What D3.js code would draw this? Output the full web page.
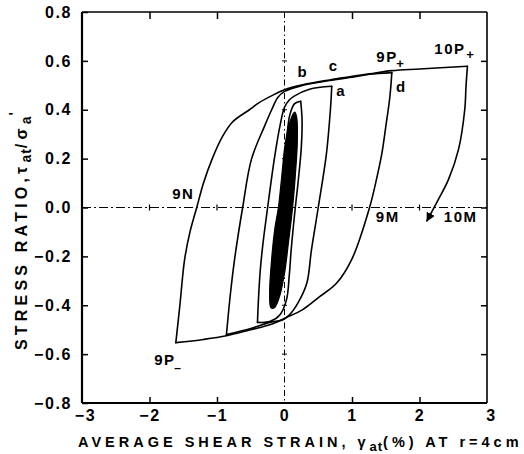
<!DOCTYPE html>
<html><head><meta charset="utf-8">
<script src="https://cdn.jsdelivr.net/npm/d3@7"></script>
<style>body{margin:0;background:#fff}svg{display:block}</style>
</head><body><svg id="c" width="524" height="454"></svg>
<script>
// ---- data (strain %, stress ratio) ----
const xTicks = [-3, -2, -1, 0, 1, 2, 3];
const yTicks = [0.8, 0.6, 0.4, 0.2, 0, -0.2, -0.4, -0.6, -0.8];
const blackCore = [[-0.2,-0.41],[-0.22,-0.35],[-0.19,-0.21],[-0.14,-0.08],[-0.09,0.0],[-0.04,0.13],[0.01,0.26],[0.08,0.35],[0.15,0.39],
  [0.18,0.37],[0.19,0.27],[0.16,0.13],[0.12,0.0],[0.06,-0.14],[0.0,-0.27],[-0.08,-0.37],[-0.15,-0.41]];
const thinRise = [[0.04,0.3],[0.08,0.38],[0.15,0.425],[0.24,0.435]];
const thinUnload = [[0.24,0.435],[0.26,0.36],[0.25,0.25],[0.2,0.1],[0.16,0.0],[0.1,-0.17],[0.07,-0.28],[0.03,-0.377],[-0.07,-0.44],[-0.22,-0.467],[-0.4,-0.47]];
const reloadToA = [[-0.4,-0.47],[-0.39,-0.4],[-0.36,-0.26],[-0.32,-0.15],[-0.25,0.0],[-0.15,0.2],[-0.07,0.33],[0.0,0.41],[0.07,0.44],[0.15,0.457],[0.37,0.484],[0.7,0.496]];
const unloadA = [[0.7,0.496],[0.68,0.4],[0.62,0.217],[0.5,0.0],[0.4,-0.172],[0.33,-0.31],[0.2,-0.39],[0.07,-0.44],[-0.03,-0.46],[-0.22,-0.47],[-0.5,-0.495],[-0.86,-0.52]];
const reloadToD = [[-0.86,-0.52],[-0.8,-0.35],[-0.74,-0.213],[-0.62,0.0],[-0.49,0.197],[-0.3,0.33],[-0.19,0.4],[-0.1,0.45],[0.0,0.475],[0.27,0.5],[0.67,0.52],[1.0,0.533],[1.26,0.545],[1.59,0.552]];
const unloadD = [[1.59,0.552],[1.56,0.45],[1.5,0.33],[1.44,0.217],[1.35,0.1],[1.26,0.0],[1.0,-0.21],[0.77,-0.31],[0.52,-0.365],[0.27,-0.418],[0.03,-0.45],[-0.22,-0.48],[-0.5,-0.5],[-0.86,-0.525],[-1.2,-0.54],[-1.61,-0.553]];
const reloadTo10 = [[-1.61,-0.553],[-1.55,-0.4],[-1.48,-0.213],[-1.4,-0.1],[-1.3,0.0],[-1.2,0.1],[-1.07,0.2],[-0.92,0.29],[-0.77,0.35],[-0.52,0.4],[-0.37,0.43],[-0.15,0.463],[0.0,0.482],[0.27,0.502],[0.67,0.522],[1.26,0.547],[1.59,0.56],[2.0,0.567],[2.71,0.578]];
const unload10 = [[2.71,0.578],[2.69,0.5],[2.67,0.4],[2.58,0.24],[2.43,0.115],[2.28,0.033],[2.11,-0.055]];
const annotations = [
  {t:"9N", x:-1.5, y:0.033}, {t:"9M", x:1.53, y:-0.061}, {t:"10M", x:2.61, y:-0.061},
  {t:"a", x:0.84, y:0.455}, {t:"b", x:0.27, y:0.533}, {t:"c", x:0.73, y:0.557}, {t:"d", x:1.73, y:0.471}
];

// ---- layout ----
const svg = d3.select("#c");
const x = d3.scaleLinear().domain([-3, 3]).range([82, 487]);
const y = d3.scaleLinear().domain([-0.8, 0.8]).range([403, 12]);
const FONT = "'Liberation Sans', Arial, Helvetica, sans-serif";

// reference lines (dash-dot)
svg.append("line").attr("x1", x(-3)).attr("x2", x(3)).attr("y1", y(0)).attr("y2", y(0))
  .attr("stroke", "#000").attr("stroke-width", 1.2).attr("stroke-dasharray", "9,3,2,3");
svg.append("line").attr("x1", x(0)).attr("x2", x(0)).attr("y1", y(0.8)).attr("y2", y(-0.8))
  .attr("stroke", "#000").attr("stroke-width", 1).attr("stroke-dasharray", "6,3,1.5,3");
xTicks.filter(d => d !== 0 && Math.abs(d) !== 3).forEach(d => {
  svg.append("line").attr("x1", x(d)).attr("x2", x(d)).attr("y1", y(0) - 3).attr("y2", y(0) + 3).attr("stroke", "#000").attr("stroke-width", 1.2);
});
yTicks.filter(d => d !== 0 && Math.abs(d) !== 0.8).forEach(d => {
  svg.append("line").attr("x1", x(0) - 2.5).attr("x2", x(0) + 2.5).attr("y1", y(d)).attr("y2", y(d)).attr("stroke", "#000").attr("stroke-width", 1);
});

// axes
const fmtY = d3.format(".1f"), fmtX = d3.format("d");
const gl = svg.append("g").attr("transform", `translate(${x(-3)},0)`)
  .call(d3.axisLeft(y).tickValues(yTicks).tickFormat(fmtY).tickSizeInner(-6).tickSizeOuter(0).tickPadding(10));
const gr = svg.append("g").attr("transform", `translate(${x(3)},0)`)
  .call(d3.axisRight(y).tickValues(yTicks.filter(d => Math.abs(d) < 0.8)).tickFormat("").tickSizeInner(-6).tickSizeOuter(0));
const gb = svg.append("g").attr("transform", `translate(0,${y(-0.8)})`)
  .call(d3.axisBottom(x).tickValues(xTicks).tickFormat(fmtX).tickSizeInner(-6).tickSizeOuter(0).tickPadding(7));
const gt = svg.append("g").attr("transform", `translate(0,${y(0.8)})`)
  .call(d3.axisTop(x).tickValues(xTicks.filter(d => d !== 0 && Math.abs(d) < 3)).tickFormat("").tickSizeInner(-7).tickSizeOuter(0));
[gl, gr, gb, gt].forEach(g => {
  g.select(".domain").remove();
  g.selectAll(".tick line").attr("stroke", "#000").attr("stroke-width", 1.5);
  g.selectAll("text").attr("font-family", FONT).attr("font-weight", "bold").attr("font-size", 16).attr("fill", "#000").attr("letter-spacing", 1.6);
});
gb.selectAll(".tick").filter(d => d === 0 || Math.abs(d) === 3).select("line").remove();
gb.selectAll(".tick text").attr("dx", d => d === -3 ? 3 : (d === 3 ? 4 : 0));

// frame
svg.append("line").attr("x1", x(-3)).attr("x2", x(-3)).attr("y1", y(0.8)).attr("y2", y(-0.8)).attr("stroke", "#000").attr("stroke-width", 2.2);
svg.append("line").attr("x1", x(-3)).attr("x2", x(3)).attr("y1", y(-0.8)).attr("y2", y(-0.8)).attr("stroke", "#000").attr("stroke-width", 2.2);
svg.append("line").attr("x1", x(-3)).attr("x2", x(3)).attr("y1", y(0.8)).attr("y2", y(0.8)).attr("stroke", "#000").attr("stroke-width", 1.6);
svg.append("line").attr("x1", x(3)).attr("x2", x(3)).attr("y1", y(0.8)).attr("y2", y(-0.8)).attr("stroke", "#000").attr("stroke-width", 1.6);

// arrow marker
svg.append("defs").append("marker").attr("id", "arr").attr("viewBox", "0 0 10 10").attr("refX", 9).attr("refY", 5)
  .attr("markerWidth", 9).attr("markerHeight", 9).attr("markerUnits", "userSpaceOnUse").attr("orient", "auto")
  .append("path").attr("d", "M0,0 L10,5 L0,10 z").attr("fill", "#000");

// curves
const line = d3.line().x(d => x(d[0])).y(d => y(d[1])).curve(d3.curveCatmullRom.alpha(0.5));
svg.append("path").attr("d", d3.line().x(d => x(d[0])).y(d => y(d[1])).curve(d3.curveCatmullRomClosed.alpha(0.5))(blackCore))
  .attr("fill", "#000").attr("stroke", "#000").attr("stroke-width", 1.2);
[thinRise, thinUnload, reloadToA, unloadA, reloadToD, unloadD, reloadTo10, unload10].forEach(br => {
  const p = svg.append("path").attr("d", line(br)).attr("fill", "none").attr("stroke", "#000")
    .attr("stroke-width", 1.6).attr("stroke-linejoin", "round").attr("stroke-linecap", "round");
  if (br === unload10) p.attr("marker-end", "url(#arr)");
});

// annotations
const ann = svg.append("g").attr("font-family", FONT).attr("font-weight", "bold").attr("font-size", 15).attr("fill", "#000").attr("letter-spacing", 1.5);
ann.selectAll("text.a").data(annotations).join("text").attr("class", "a")
  .attr("x", d => x(d.x)).attr("y", d => y(d.y)).attr("text-anchor", "middle").text(d => d.t);
ann.append("text").attr("x", x(1.36)).attr("y", y(0.594)).text("9P");
ann.append("text").attr("x", x(1.36) + 20).attr("y", y(0.594) + 6).attr("font-size", 13).attr("letter-spacing", 0).text("+");
ann.append("text").attr("x", x(2.22)).attr("y", y(0.627)).text("10P");
ann.append("text").attr("x", x(2.22) + 32).attr("y", y(0.627) + 5).attr("font-size", 13).attr("letter-spacing", 0).text("+");
ann.append("text").attr("x", x(-1.93)).attr("y", y(-0.643)).text("9P");
ann.append("text").attr("x", x(-1.93) + 20).attr("y", y(-0.643) + 7).attr("font-size", 12).attr("letter-spacing", 0).text("\u2013");

// axis titles
const xt = svg.append("text").attr("x", 78).attr("y", 447).attr("font-family", FONT).attr("font-weight", "bold")
  .attr("font-size", 14.5).attr("letter-spacing", 4).attr("fill", "#000");
xt.append("tspan").text("AVERAGE  SHEAR  STRAIN, \u03B3");
xt.append("tspan").attr("dy", 4).attr("font-size", 13).attr("letter-spacing", 1).text("at");
xt.append("tspan").attr("dy", -4).text("(%) AT r=4cm");

const yt = svg.append("text").attr("transform", "translate(27,229) rotate(-90)").attr("text-anchor", "middle")
  .attr("font-family", FONT).attr("font-weight", "bold").attr("font-size", 16).attr("letter-spacing", 4.2).attr("fill", "#000");
yt.append("tspan").text("STRESS RATIO,\u03C4");
yt.append("tspan").attr("dy", 4).attr("font-size", 14).attr("letter-spacing", 1).text("at");
yt.append("tspan").attr("dy", -4).text("/\u03C3");
yt.append("tspan").attr("dy", 4).attr("font-size", 14).attr("letter-spacing", 1).text("a");
yt.append("tspan").attr("dy", -12).attr("font-size", 14).text("'");
</script></body></html>
